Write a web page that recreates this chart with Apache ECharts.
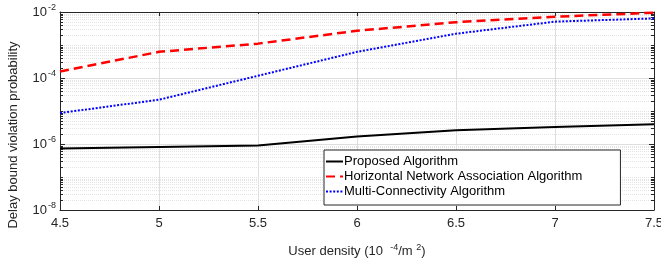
<!DOCTYPE html>
<html>
<head>
<meta charset="utf-8">
<script src="https://cdn.jsdelivr.net/npm/echarts@6/dist/echarts.min.js"></script>
<style>
  html, body { margin: 0; padding: 0; background: #fff; }
  #chart { width: 661px; height: 258px; }
</style>
</head>
<body>
<div id="chart"></div>
<script>
// user density, 10^-4 per m^2
const density = [4.5, 5, 5.5, 6, 6.5, 7, 7.5];
const proposed = [7.3e-7, 8.1e-7, 9.0e-7, 1.7e-6, 2.6e-6, 3.3e-6, 4.0e-6];
const horizontal = [1.58e-4, 6.2e-4, 1.1e-3, 2.7e-3, 4.9e-3, 7.2e-3, 9.5e-3];
const multiConn = [8.7e-6, 2.2e-5, 1.17e-4, 6.2e-4, 2.2e-3, 5.1e-3, 6.4e-3];
const seriesNames = [
  "Proposed Algorithm",
  "Horizontal Network Association Algorithm",
  "Multi-Connectivity Algorithm",
];

const axisColor = "#262626";
const font = "Liberation Sans";

// minor log grid lines (2..9 of every decade, plus skipped decades)
const minorVals = [];
for (let e = -8; e < -2; e++) {
  for (let m = 1; m <= 9; m++) {
    if (m === 1 && e % 2 === 0) continue;
    minorVals.push([4.5, m * Math.pow(10, e)]);
  }
}

const pair = (ys) => density.map((x, i) => [x, ys[i]]);

const chart = echarts.init(document.getElementById("chart"), null, { renderer: "canvas" });

const supRich = {
  b: { fontSize: 13, color: axisColor, fontFamily: font },
  s: { fontSize: 9, color: axisColor, fontFamily: font, padding: [0, 0, 8, 1] },
};

const option = {
  animation: false,
  backgroundColor: "#fff",
  textStyle: { fontFamily: font },
  grid: { left: 60, right: 7, top: 12, bottom: 48, outerBoundsMode: "none", containLabel: false },
  xAxis: [
    {
      type: "value",
      min: 4.5,
      max: 7.5,
      interval: 0.5,
      name: "{t|User density (10  }{s|-4}{t|/m }{s|2}{t|)}",
      nameLocation: "middle",
      nameGap: 33,
      nameTextStyle: {
        rich: {
          t: { fontSize: 13, color: axisColor, fontFamily: font },
          s: { fontSize: 9, color: axisColor, fontFamily: font, padding: [0, 0, 8, 0] },
        },
      },
      axisLine: { lineStyle: { color: axisColor, width: 1 } },
      axisTick: { inside: true, length: 4, lineStyle: { color: axisColor } },
      axisLabel: { color: axisColor, fontSize: 13, margin: 7, fontFamily: font },
      splitLine: { show: true, lineStyle: { color: "#dedede", width: 1 } },
    },
    {
      type: "value",
      position: "top",
      min: 4.5,
      max: 7.5,
      interval: 0.5,
      axisLine: { show: true, lineStyle: { color: axisColor, width: 1 } },
      axisTick: { inside: true, length: 4, lineStyle: { color: axisColor } },
      axisLabel: { show: false },
      splitLine: { show: false },
    },
  ],
  yAxis: [
    {
      type: "log",
      logBase: 10,
      min: 1e-8,
      max: 1e-2,
      interval: 2,
      splitNumber: 4,
      name: "Delay bound violation probability",
      nameLocation: "middle",
      nameGap: 40,
      nameTextStyle: { fontSize: 13, color: axisColor, fontFamily: font, padding: [0, 48, 0, 0] },
      axisLine: { show: true, lineStyle: { color: axisColor, width: 1 } },
      axisTick: { inside: true, length: 5, lineStyle: { color: axisColor } },
      axisLabel: {
        margin: 4,
        formatter: (v) => "{b|10}{s|" + Math.round(Math.log10(v)) + "}",
        rich: supRich,
      },
      splitLine: { show: true, lineStyle: { color: "#dedede", width: 1 } },
    },
    {
      type: "log",
      logBase: 10,
      min: 1e-8,
      max: 1e-2,
      interval: 2,
      splitNumber: 4,
      position: "right",
      axisLine: { show: true, lineStyle: { color: axisColor, width: 1 } },
      axisTick: { inside: true, length: 5, lineStyle: { color: axisColor } },
      axisLabel: { show: false },
      splitLine: { show: false },
    },
  ],
  legend: {
    orient: "vertical",
    left: 324,
    top: 150,
    data: seriesNames,
    itemWidth: 17,
    itemHeight: 10,
    itemGap: 2,
    padding: [5, 38, 7, 1],
    backgroundColor: "#fff",
    borderColor: axisColor,
    borderWidth: 1,
    borderRadius: 0,
    itemStyle: { opacity: 0 },
    textStyle: { fontSize: 13, color: "#000", fontFamily: font, padding: [0, 0, 0, -4] },
  },
  series: [
    {
      type: "custom",
      name: "minor",
      silent: true,
      z: 1,
      data: minorVals,
      renderItem: (params, api) => {
        const cs = params.coordSys;
        const y = Math.round(api.coord([api.value(0), api.value(1)])[1]) + 0.5;
        const right = cs.x + cs.width;
        return {
          type: "group",
          children: [
            { type: "line", shape: { x1: cs.x, y1: y, x2: right, y2: y },
              style: { stroke: "#e4e4e4", lineWidth: 1, lineDash: [1, 1] } },
            { type: "line", shape: { x1: cs.x, y1: y, x2: cs.x + 3, y2: y },
              style: { stroke: axisColor, lineWidth: 1 } },
            { type: "line", shape: { x1: right - 3, y1: y, x2: right, y2: y },
              style: { stroke: axisColor, lineWidth: 1 } },
          ],
        };
      },
    },
    {
      name: seriesNames[0],
      type: "line",
      data: pair(proposed),
      symbol: "none",
      z: 3,
      lineStyle: { color: "#000", width: 2 },
      itemStyle: { color: "#000" },
    },
    {
      name: seriesNames[1],
      type: "line",
      data: pair(horizontal),
      symbol: "none",
      z: 3,
      lineStyle: { color: "#ff0000", width: 2.5, type: [9, 5] },
      itemStyle: { color: "#ff0000" },
    },
    {
      name: seriesNames[2],
      type: "line",
      data: pair(multiConn),
      symbol: "none",
      z: 3,
      lineStyle: { color: "#0000ff", width: 2, type: [2, 1.6] },
      itemStyle: { color: "#0000ff" },
    },
  ],
};

chart.setOption(option);
</script>
</body>
</html>
